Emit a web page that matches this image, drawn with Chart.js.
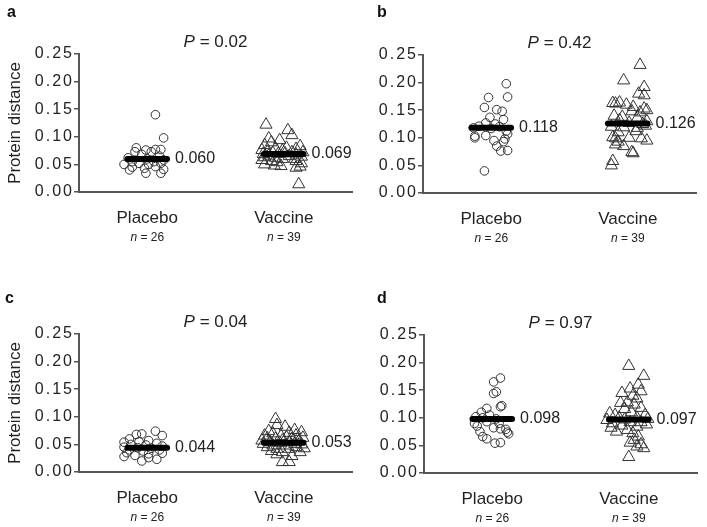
<!DOCTYPE html>
<html lang="en">
<head>
<meta charset="UTF-8">
<title>Protein distance</title>
<script src="https://cdn.jsdelivr.net/npm/chart.js"></script>
<style>
    body { margin: 0; background: #fff; }
    #wrap { position: relative; width: 707px; height: 527px; overflow: hidden; background: #fff; }
    .panel { position: absolute; width: 360px; height: 250px; }
    .letter { position: absolute; font: bold 16px Arial, "Liberation Sans", sans-serif; line-height: 16px; color: #111; }
</style>
</head>
<body>
<div id="wrap">
    <div class="panel" style="left:0;top:0"><canvas id="chartA" width="360" height="250"></canvas></div>
    <div class="panel" style="left:344px;top:1px"><canvas id="chartB" width="360" height="250"></canvas></div>
    <div class="panel" style="left:0;top:280px"><canvas id="chartC" width="360" height="250"></canvas></div>
    <div class="panel" style="left:345px;top:281px"><canvas id="chartD" width="360" height="250"></canvas></div>
    <div class="letter" style="left:7px;top:4px">a</div>
    <div class="letter" style="left:377px;top:4px">b</div>
    <div class="letter" style="left:5px;top:290px">c</div>
    <div class="letter" style="left:377px;top:290px">d</div>
</div>

<script>
// groups and labels
const groups = ['Placebo', 'Vaccine'];
const groupN = [26, 39];
const pValues = ['0.02', '0.42', '0.04', '0.97'];
const yTitle = 'Protein distance';

// medians [placebo, vaccine]
const medianA = [0.060, 0.069];
const medianB = [0.118, 0.126];
const medianC = [0.044, 0.053];
const medianD = [0.098, 0.097];

// panel a
const aPlaceboY = [0.140, 0.098, 0.080, 0.076, 0.077, 0.077, 0.073, 0.073, 0.068, 0.065, 0.062, 0.060, 0.058, 0.055, 0.055, 0.052, 0.050, 0.052, 0.050, 0.045, 0.046, 0.043, 0.041, 0.040, 0.034, 0.034];
const aPlaceboJit = [0.06, 0.12, -0.08, -0.01, 0.06, 0.10, -0.09, 0.03, -0.04, 0.09, -0.14, 0, 0.12, -0.11, 0.05, -0.06, -0.17, 0.10, 0.01, -0.11, 0.06, -0.02, 0.12, -0.13, -0.01, 0.10];
const aVaccineY = [0.122, 0.112, 0.103, 0.097, 0.094, 0.090, 0.085, 0.083, 0.080, 0.079, 0.078, 0.076, 0.075, 0.073, 0.072, 0.072, 0.071, 0.070, 0.069, 0.069, 0.068, 0.066, 0.065, 0.064, 0.063, 0.062, 0.060, 0.060, 0.058, 0.056, 0.056, 0.054, 0.052, 0.050, 0.048, 0.047, 0.046, 0.044, 0.014];
const aVaccineJit = [-0.13, 0.03, 0.06, -0.11, -0.03, -0.09, -0.14, 0.12, 0.02, -0.06, 0.09, -0.16, -0.01, -0.12, 0.06, 0.14, -0.08, 0.01, -0.15, -0.04, 0.09, -0.11, 0.04, 0.13, -0.14, -0.06, -0.01, 0.08, -0.16, -0.09, 0.09, -0.05, 0.13, -0.14, -0.07, -0.02, 0.12, 0.09, 0.11];

// panel b
const bPlaceboY = [0.198, 0.173, 0.174, 0.155, 0.151, 0.148, 0.137, 0.133, 0.127, 0.125, 0.121, 0.120, 0.118, 0.117, 0.112, 0.103, 0.104, 0.107, 0.098, 0.095, 0.093, 0.085, 0.076, 0.077, 0.100, 0.040];
const bPlaceboJit = [0.11, -0.02, 0.12, -0.05, 0.04, 0.08, -0.01, 0.09, -0.04, 0.03, -0.09, 0.06, -0.13, 0, 0.11, -0.12, -0.04, 0.12, 0.10, 0.02, 0.09, 0.04, 0.07, 0.12, -0.12, -0.05];
const bVaccineY = [0.232, 0.204, 0.192, 0.180, 0.177, 0.163, 0.162, 0.164, 0.160, 0.156, 0.153, 0.148, 0.146, 0.150, 0.140, 0.138, 0.136, 0.132, 0.130, 0.127, 0.125, 0.120, 0.119, 0.118, 0.122, 0.110, 0.112, 0.101, 0.099, 0.100, 0.099, 0.095, 0.093, 0.088, 0.085, 0.074, 0.072, 0.058, 0.050];
const bVaccineJit = [0.09, -0.03, 0.12, 0.08, 0.12, -0.11, -0.09, -0.06, -0.01, 0.04, 0.12, 0.03, 0.09, 0.14, -0.10, -0.04, 0.07, -0.06, 0.14, 0.01, 0.11, -0.12, -0.03, 0.07, 0.13, -0.07, 0.06, -0.11, -0.09, 0.01, 0.10, 0.14, -0.07, -0.09, -0.03, 0.03, 0.04, -0.11, -0.12];

// panel c
const cPlaceboY = [0.074, 0.069, 0.068, 0.066, 0.060, 0.057, 0.054, 0.055, 0.052, 0.050, 0.049, 0.047, 0.045, 0.044, 0.043, 0.040, 0.040, 0.038, 0.035, 0.034, 0.033, 0.030, 0.028, 0.026, 0.023, 0.020];
const cPlaceboJit = [0.06, -0.04, -0.08, 0.11, -0.13, 0.01, -0.17, -0.06, 0.07, -0.12, -0.01, 0.11, -0.17, -0.07, 0.03, -0.13, 0.09, -0.03, -0.15, 0.11, 0.01, -0.09, -0.17, 0.01, 0.07, -0.04];
const cVaccineY = [0.096, 0.085, 0.082, 0.074, 0.076, 0.071, 0.070, 0.072, 0.066, 0.065, 0.066, 0.063, 0.061, 0.060, 0.060, 0.062, 0.057, 0.057, 0.056, 0.054, 0.054, 0.053, 0.051, 0.051, 0.050, 0.048, 0.048, 0.045, 0.045, 0.042, 0.042, 0.043, 0.038, 0.036, 0.036, 0.032, 0.029, 0.018, 0.018];
const cVaccineJit = [-0.06, -0.05, 0.01, -0.11, 0.08, 0.04, -0.08, 0.13, -0.14, -0.02, 0.09, 0.02, -0.12, -0.06, 0.06, 0.14, -0.16, -0.01, 0.11, -0.10, 0.04, -0.03, -0.15, 0.08, 0.13, -0.08, 0.01, -0.12, 0.09, -0.05, 0.04, 0.15, -0.09, -0.01, 0.12, -0.05, 0.06, -0.01, 0.04];

// panel d
const dPlaceboY = [0.172, 0.165, 0.147, 0.144, 0.122, 0.120, 0.117, 0.110, 0.105, 0.102, 0.100, 0.098, 0.090, 0.093, 0.090, 0.085, 0.082, 0.080, 0.079, 0.075, 0.074, 0.071, 0.066, 0.062, 0.054, 0.055];
const dPlaceboJit = [0.06, 0.01, 0.03, 0.01, 0.07, 0.06, -0.04, -0.08, -0.02, -0.12, -0.07, 0.03, -0.13, -0.04, 0.05, -0.11, 0.01, 0.06, 0.10, -0.09, 0.11, 0.12, -0.07, -0.04, 0.02, 0.06];
const dVaccineY = [0.194, 0.176, 0.160, 0.153, 0.145, 0.148, 0.140, 0.135, 0.127, 0.128, 0.124, 0.118, 0.116, 0.108, 0.105, 0.110, 0.105, 0.100, 0.100, 0.098, 0.097, 0.096, 0.092, 0.092, 0.090, 0.088, 0.086, 0.084, 0.082, 0.078, 0.075, 0.072, 0.066, 0.060, 0.055, 0.052, 0.048, 0.045, 0.029];
const dVaccineJit = [0, 0.11, 0.07, 0.01, -0.05, 0.09, 0.03, 0.06, -0.06, -0.01, 0.04, 0.09, -0.03, -0.14, -0.10, 0.02, 0.12, -0.07, 0.06, 0.14, -0.03, -0.16, 0.09, 0.01, -0.12, 0.13, -0.05, 0.06, -0.13, -0.01, -0.09, 0.03, 0.07, 0.04, 0.01, 0.09, 0.06, 0.11, 0];

const FONT = 'Arial, "Liberation Sans", sans-serif';
const INK = '#222';
const HALF_BAR = 0.145;

// text around the plot: P value, group names, n, medians, y title
const annotPlugin = {
    id: 'annot',
    beforeDraw(chart) {
        chart.ctx.letterSpacing = '2px';   // y tick labels are wide in the original
    },
    beforeDatasetsDraw(chart) {
        chart.ctx.letterSpacing = '0px';
    },
    afterDraw(chart, args, o) {
        const ctx = chart.ctx;
        const area = chart.chartArea;
        const xs = chart.scales.x, ys = chart.scales.y;
        ctx.save();
        ctx.letterSpacing = '0px';
        ctx.fillStyle = INK;
        ctx.textBaseline = 'middle';

        // P = ...
        ctx.font = 'italic 17px ' + FONT;
        const pw = ctx.measureText('P').width;
        ctx.font = '17px ' + FONT;
        const rest = ' = ' + o.p;
        const rw = ctx.measureText(rest).width;
        let px = (area.left + area.right) / 2 - (pw + rw) / 2;
        ctx.textAlign = 'left';
        ctx.font = 'italic 17px ' + FONT;
        ctx.fillText('P', px, area.top - 12);
        ctx.font = '17px ' + FONT;
        ctx.fillText(rest, px + pw, area.top - 12);

        groups.forEach((g, i) => {
            const cx = xs.getPixelForValue(i + 1);
            ctx.textAlign = 'center';
            ctx.font = '17px ' + FONT;
            ctx.fillText(g, cx, area.bottom + 26);

            ctx.font = 'italic 12px ' + FONT;
            const nw = ctx.measureText('n').width;
            ctx.font = '12px ' + FONT;
            const tail = ' = ' + groupN[i];
            const tw = ctx.measureText(tail).width;
            const sx = cx - (nw + tw) / 2;
            ctx.textAlign = 'left';
            ctx.font = 'italic 12px ' + FONT;
            ctx.fillText('n', sx, area.bottom + 46);
            ctx.font = '12px ' + FONT;
            ctx.fillText(tail, sx + nw, area.bottom + 46);

            // median value next to the bar
            const m = o.medians[i];
            ctx.font = '16px ' + FONT;
            ctx.fillText(m.toFixed(3), xs.getPixelForValue(i + 1 + HALF_BAR) + 8, ys.getPixelForValue(m));
        });

        if (o.yTitle) {
            ctx.translate(15, (area.top + area.bottom) / 2);
            ctx.rotate(-Math.PI / 2);
            ctx.textAlign = 'center';
            ctx.font = '17px ' + FONT;
            ctx.fillText(yTitle, 0, 0);
        }
        ctx.restore();
    }
};

function points(jit, vals, center) {
    return vals.map((v, i) => ({ x: center + jit[i], y: v }));
}

function medianLine(m, center) {
    return {
        type: 'line',
        data: [{ x: center - HALF_BAR, y: m }, { x: center + HALF_BAR, y: m }],
        borderColor: '#000',
        borderWidth: 6,
        borderCapStyle: 'round',
        pointRadius: 0
    };
}

function makePanel(id, pY, pJit, vY, vJit, medians, p, withTitle) {
    const ctx = document.getElementById(id).getContext('2d');
    return new Chart(ctx, {
        type: 'scatter',
        data: {
            datasets: [
                medianLine(medians[0], 1),
                medianLine(medians[1], 2),
                {
                    data: points(pJit, pY, 1),
                    pointStyle: 'circle',
                    pointRadius: 4.3,
                    borderColor: '#333',
                    borderWidth: 1,
                    backgroundColor: 'rgba(255,255,255,0)'
                },
                {
                    data: points(vJit, vY, 2),
                    pointStyle: 'triangle',
                    pointRadius: 7,
                    borderColor: '#333',
                    borderWidth: 1,
                    backgroundColor: 'rgba(255,255,255,0)'
                }
            ]
        },
        options: {
            responsive: false,
            animation: false,
            layout: { padding: { top: 54, right: 6, bottom: 0, left: 0 } },
            plugins: {
                legend: { display: false },
                tooltip: { enabled: false },
                annot: { p: p, medians: medians, yTitle: withTitle }
            },
            scales: {
                x: {
                    type: 'linear',
                    min: 0.5,
                    max: 2.5,
                    afterFit: s => { s.height = 58; },
                    ticks: { display: false },
                    grid: { display: false },
                    border: { color: '#555', width: 2 }
                },
                y: {
                    min: 0,
                    max: 0.25,
                    afterFit: s => { s.width = 79; },
                    ticks: {
                        stepSize: 0.05,
                        padding: 0,
                        color: INK,
                        font: { size: 16, family: FONT },
                        callback: v => v.toFixed(2)
                    },
                    grid: { drawOnChartArea: false, drawTicks: true, tickLength: 5, color: '#555', lineWidth: 1.5 },
                    border: { color: '#555', width: 2 }
                }
            }
        },
        plugins: [annotPlugin]
    });
}

makePanel('chartA', aPlaceboY, aPlaceboJit, aVaccineY, aVaccineJit, medianA, pValues[0], true);
makePanel('chartB', bPlaceboY, bPlaceboJit, bVaccineY, bVaccineJit, medianB, pValues[1], false);
makePanel('chartC', cPlaceboY, cPlaceboJit, cVaccineY, cVaccineJit, medianC, pValues[2], true);
makePanel('chartD', dPlaceboY, dPlaceboJit, dVaccineY, dVaccineJit, medianD, pValues[3], false);
</script>
</body>
</html>
